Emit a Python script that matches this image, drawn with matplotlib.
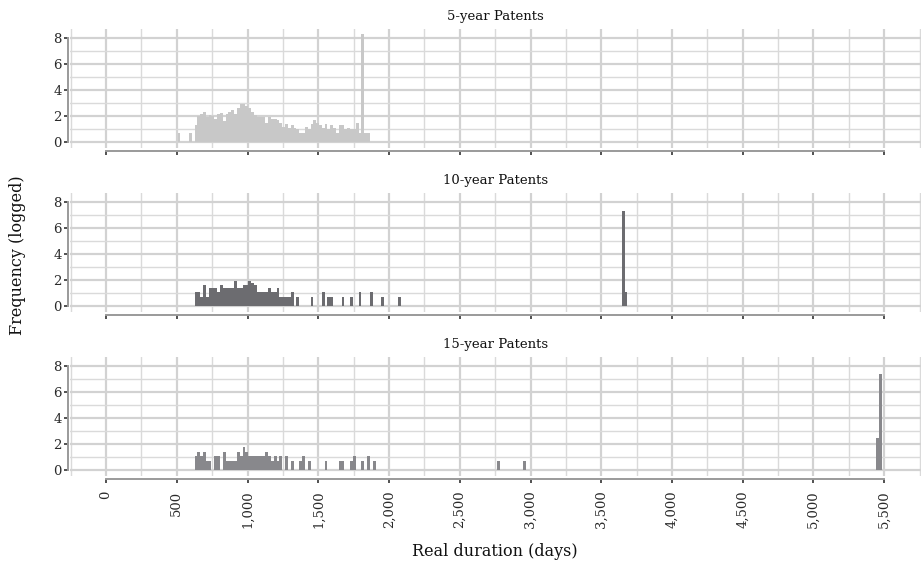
import numpy as np
import matplotlib.pyplot as plt
from matplotlib.ticker import MultipleLocator, FuncFormatter

# histogram bins are 20 days wide; values are log(count)
BIN = 20

p5_days = [505, 585] + list(range(625, 1865, BIN))
p5_logfreq = [0.69, 0.69,
              1.3, 2.0, 2.2, 2.3, 1.95, 2.1, 2.0, 1.8, 2.2, 2.25,
              1.6, 2.2, 2.3, 2.5, 2.2, 2.6, 2.9, 2.95, 2.8, 2.6,
              2.3, 2.1, 1.95, 1.95, 1.9, 1.45, 1.9, 1.8, 1.8, 1.7,
              1.45, 1.2, 1.4, 1.1, 1.35, 1.1, 1.05, 0.7, 0.7, 1.2,
              1.05, 1.4, 1.7, 1.45, 1.35, 1.1, 1.4, 1.05, 1.35, 1.1,
              0.7, 1.35, 1.35, 1.05, 1.1, 1.05, 1.05, 1.45, 0.7, 8.25,
              0.7, 0.7]

p10_days = list(range(625, 1345, BIN)) + [1345, 1445, 1525, 1565, 1585,
                                            1665, 1725, 1785, 1865, 1945, 2065,
                                            3645, 3665]
p10_logfreq = [1.1, 1.1, 0.69, 1.61, 0.69, 1.39, 1.39, 1.39, 1.1, 1.61,
               1.39, 1.39, 1.39, 1.39, 1.95, 1.39, 1.39, 1.61, 1.61, 1.95,
               1.79, 1.61, 1.1, 1.1, 1.1, 1.1, 1.39, 1.1, 1.1, 1.39,
               0.69, 0.69, 0.69, 0.69, 1.1, 0.0,
               0.69, 0.69, 1.1, 0.69, 0.69,
               0.69, 0.69, 1.1, 1.1, 0.69, 0.69,
               7.3, 1.1]

p15_days = list(range(625, 1445, BIN)) + [1545, 1645, 1665, 1725, 1745,
                                            1805, 1845, 1885, 2765, 2945,
                                            5445, 5465]
p15_logfreq = [1.1, 1.39, 1.1, 1.39, 0.69, 0.69, 0.0, 1.1, 1.1, 0.0,
               1.39, 0.69, 0.69, 0.69, 0.69, 1.39, 1.1, 1.79, 1.39, 1.1,
               1.1, 1.1, 1.1, 1.1, 1.1, 1.39, 1.1, 0.69, 1.1, 0.69,
               1.1, 0.0, 1.1, 0.0, 0.69, 0.0, 0.0, 0.69, 1.1, 0.0,
               0.69,
               0.69, 0.69, 0.69, 0.69, 1.1,
               0.69, 1.1, 0.69, 0.69, 0.69,
               2.5, 7.35]

panels = [
    ("5-year Patents", p5_days, p5_logfreq, "#c8c8c8"),
    ("10-year Patents", p10_days, p10_logfreq, "#6c6c70"),
    ("15-year Patents", p15_days, p15_logfreq, "#88888c"),
]

plt.rcParams['font.family'] = ['DejaVu Serif']

fig = plt.figure(figsize=(9.22, 5.67), dpi=100)
W, H = 922, 567
tops = [29, 193, 357]
panel_h = 119
x0, x1 = 70, 921

for i, (title, days, logf, col) in enumerate(panels):
    top = tops[i]
    ax = fig.add_axes([x0 / W, 1 - (top + panel_h) / H, (x1 - x0) / W, panel_h / H])
    ax.bar(days, logf, width=BIN, align='edge', color=col, linewidth=0, zorder=3)
    ax.set_xlim(-255, 5760)
    ax.set_ylim(-0.43, 8.66)

    ax.xaxis.set_major_locator(MultipleLocator(500))
    ax.xaxis.set_minor_locator(MultipleLocator(250))
    ax.yaxis.set_major_locator(MultipleLocator(2))
    ax.yaxis.set_minor_locator(MultipleLocator(1))
    ax.set_axisbelow(True)
    ax.grid(which='major', color='#d2d2d2', lw=1.6)
    ax.grid(which='minor', color='#dadada', lw=1.0)

    for s in ['top', 'right']:
        ax.spines[s].set_visible(False)
    ax.spines['bottom'].set_bounds(0, 5500)
    ax.spines['left'].set_bounds(0, 8)
    ax.spines['bottom'].set_position(('outward', 2.5))
    ax.spines['left'].set_position(('outward', 1.5))
    for s in ['bottom', 'left']:
        ax.spines[s].set_color('#9a9a9a')
        ax.spines[s].set_linewidth(1.4)

    ax.tick_params(which='major', length=3, width=1.2, color='#333333',
                   labelsize=9.5, labelcolor='#2a2a2a')
    ax.tick_params(which='minor', length=0)
    ax.tick_params(axis='y', pad=1.5)
    ax.tick_params(axis='x', pad=5)

    if i == 2:
        ax.xaxis.set_major_formatter(FuncFormatter(lambda v, p: f"{int(v):,}"))
        plt.setp(ax.get_xticklabels(), rotation=90)
    else:
        ax.tick_params(axis='x', labelbottom=False)

    ax.set_title(title, fontsize=9.5, color='#111111', pad=6.5)

fig.text(495 / W, 1 - 552 / H, "Real duration (days)", ha='center', va='center',
         fontsize=11.5, color='#111111')
fig.text(18 / W, 1 - 255 / H, "Frequency (logged)", ha='center', va='center',
         rotation=90, fontsize=11.5, color='#111111')

fig.savefig("out.png", dpi=100)
